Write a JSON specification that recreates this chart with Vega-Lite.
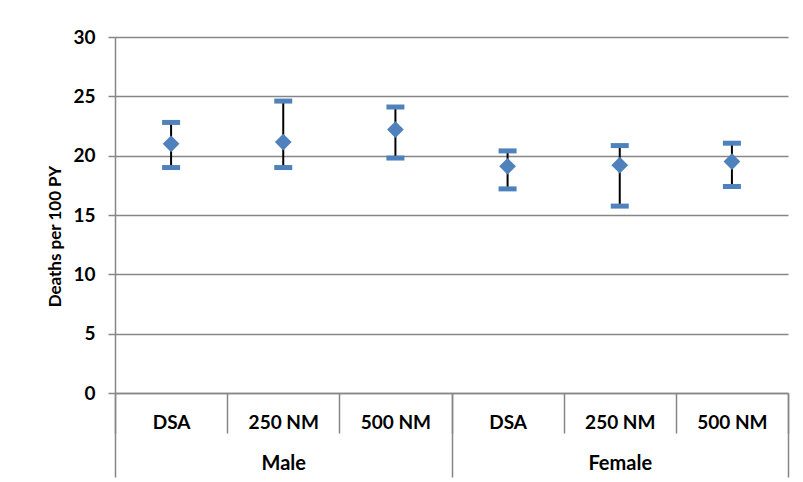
{
  "$schema": "https://vega.github.io/schema/vega-lite/v6.json",
  "autosize": {"type": "none"},
  "width": 673,
  "height": 356,
  "padding": {"left": 115, "top": 37, "right": 15, "bottom": 89},
  "background": "white",
  "config": {
    "view": {"stroke": null},
    "font": "Lato",
    "axis": {"labelFont": "Lato", "titleFont": "Lato", "labelFontWeight": "bold", "titleFontWeight": "bold", "labelColor": "black", "titleColor": "black"}
  },
  "data": {
    "values": [
      {"sex": "Male", "method": "DSA", "key": "Male|DSA", "rate": 21.0, "lower": 19.0, "upper": 22.8},
      {"sex": "Male", "method": "250 NM", "key": "Male|250 NM", "rate": 21.15, "lower": 19.0, "upper": 24.6},
      {"sex": "Male", "method": "500 NM", "key": "Male|500 NM", "rate": 22.2, "lower": 19.8, "upper": 24.1},
      {"sex": "Female", "method": "DSA", "key": "Female|DSA", "rate": 19.1, "lower": 17.2, "upper": 20.4},
      {"sex": "Female", "method": "250 NM", "key": "Female|250 NM", "rate": 19.2, "lower": 15.75, "upper": 20.85},
      {"sex": "Female", "method": "500 NM", "key": "Female|500 NM", "rate": 19.5, "lower": 17.4, "upper": 21.05}
    ]
  },
  "layer": [
    {
      "encoding": {
        "x": {
          "field": "key", "type": "nominal",
          "scale": {"domain": ["Male|DSA", "Male|250 NM", "Male|500 NM", "Female|DSA", "Female|250 NM", "Female|500 NM"], "paddingInner": 0, "paddingOuter": 0},
          "axis": {
            "title": null, "orient": "bottom", "labelAngle": 0,
            "labelExpr": "split(datum.label, '|')[1]",
            "domainColor": "#868686", "domainWidth": 1.5,
            "tickColor": "#868686", "tickWidth": 1.5, "tickBand": "extent", "tickSize": 40,
            "labelBaseline": "middle", "labelPadding": -11, "labelFontSize": 19, "grid": false
          }
        },
        "y": {
          "type": "quantitative",
          "scale": {"domain": [0, 30]},
          "axis": {
            "title": "Deaths per 100 PY", "titleFontSize": 17, "titleX": -60, "titleY": 199, "titleAlign": "center", "titleBaseline": "middle",
            "values": [0, 5, 10, 15, 20, 25, 30], "labelFontSize": 19, "labelPadding": 13,
            "tickSize": 7, "tickColor": "#868686", "tickWidth": 1.5,
            "domainColor": "#868686", "domainWidth": 1.5,
            "grid": true, "gridColor": "#868686", "gridWidth": 1.5
          }
        }
      },
      "layer": [
        {"mark": {"type": "rule", "color": "black", "strokeWidth": 2}, "encoding": {"y": {"field": "lower", "type": "quantitative"}, "y2": {"field": "upper"}}},
        {"mark": {"type": "tick", "color": "#4F81BD", "size": 18, "thickness": 5, "opacity": 1}, "encoding": {"y": {"field": "lower", "type": "quantitative"}}},
        {"mark": {"type": "tick", "color": "#4F81BD", "size": 18, "thickness": 5, "opacity": 1}, "encoding": {"y": {"field": "upper", "type": "quantitative"}}},
        {"mark": {"type": "point", "shape": "diamond", "filled": true, "color": "#4F81BD", "size": 280, "opacity": 1}, "encoding": {"y": {"field": "rate", "type": "quantitative"}}}
      ]
    },
    {
      "mark": {"type": "point", "opacity": 0},
      "encoding": {
        "x": {
          "field": "sex", "type": "nominal",
          "scale": {"domain": ["Male", "Female"], "paddingInner": 0, "paddingOuter": 0},
          "axis": {
            "title": null, "orient": "bottom", "labelAngle": 0, "domain": false,
            "tickColor": "#868686", "tickWidth": 1.5, "tickBand": "extent", "tickSize": 84,
            "labelBaseline": "middle", "labelPadding": -14, "labelFontSize": 20, "grid": false
          }
        }
      }
    }
  ],
  "resolve": {"scale": {"x": "independent"}, "axis": {"x": "independent"}}
}
